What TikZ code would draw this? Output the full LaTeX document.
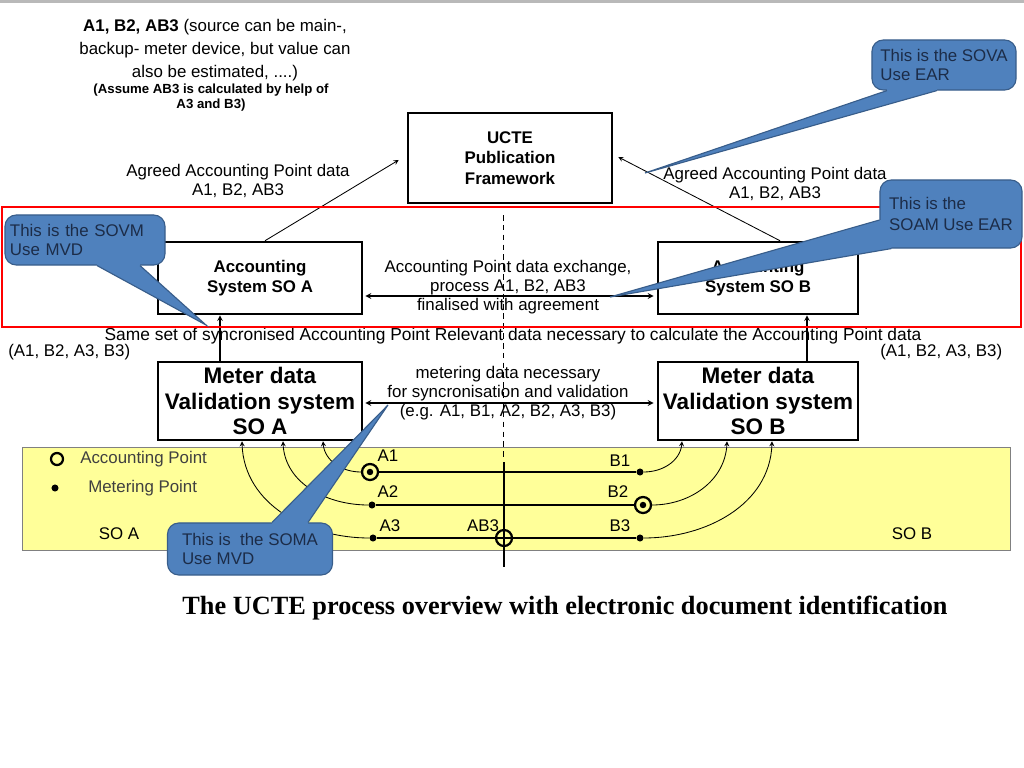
\documentclass[tikz,border=0pt]{standalone}
\usepackage{xcolor}
\usepackage{fontspec}
\setmainfont{Liberation Sans}
\newfontfamily\capfont{Liberation Serif}
\usepackage{tikz}
\usetikzlibrary{calc,bending}
\tikzset{>=stealth}
\definecolor{callfill}{HTML}{4F81BD}
\definecolor{calledge}{HTML}{385D8A}
\definecolor{calltext}{HTML}{1C2C48}
\definecolor{yellowbg}{HTML}{FFFF99}
\definecolor{legtext}{HTML}{404040}
\tikzset{
  sysbox/.style={draw,line width=1.8pt,align=center,inner sep=1pt,font=\bfseries\fontsize{12}{14.5}\selectfont},
  meterbox/.style={sysbox,font=\bfseries\fontsize{16}{18}\selectfont},
  txt/.style={align=center,inner sep=0pt,font=\fontsize{12}{13.5}\selectfont},
  ptlab/.style={inner sep=0pt,font=\fontsize{12}{13}\selectfont},
  acpt/.style={circle,draw,line width=1.6pt,fill=yellowbg,minimum size=0.4cm,inner sep=0pt},
  xpt/.style={circle,draw,line width=1.6pt,minimum size=0.4cm,inner sep=0pt},
  mpt/.style={circle,fill,minimum size=5pt,inner sep=0pt},
  calloutbox/.style={draw=calledge,line width=0.8pt,fill=callfill,rounded corners=8pt,align=left,
    text=calltext,inner sep=0pt,font=\fontsize{12}{13.5}\selectfont},
}

\begin{document}
\begin{tikzpicture}[x=0.025cm,y=-0.025cm]
  \useasboundingbox (0,0) rectangle (1024,768);
  \fill[gray!55] (0,0) rectangle (1024,3);
  \draw[gray,fill=yellowbg] (22,447) rectangle (1010,550);
  \draw[line width=0.6pt,dash pattern=on 4pt off 3pt] (503,215) -- (503,458);

  \node[sysbox,minimum width=5.1cm,minimum height=2.25cm] at (510,158) (ucte) {UCTE\\Publication\\Framework};
  \node[sysbox,minimum width=5.1cm,minimum height=1.8cm] at (260,278) (accA) {Accounting\\System SO A};
  \node[sysbox,minimum width=5cm,minimum height=1.8cm] at (758,278) (accB) {Accounting\\System SO B};
  \node[meterbox,minimum width=5.1cm,minimum height=1.95cm] at (260,401) (metA) {Meter data\\Validation system\\SO A};
  \node[meterbox,minimum width=5cm,minimum height=1.95cm] at (758,401) (metB) {Meter data\\Validation system\\SO B};

  \node[txt,font=\fontsize{12}{16.3}\selectfont] at (215,50) (src) {\textbf{A1, B2, AB3} (source can be main-,\\backup- meter device, but value can\\also be estimated, ....)};
  \node[txt,font=\bfseries\fontsize{9.4}{10.6}\selectfont] at (211,98) (assume) {(Assume AB3 is calculated by help of\\A3 and B3)};
  \node[txt] at (238,181) (agrA) {Agreed Accounting Point data\\A1, B2, AB3};
  \node[txt] at (775,184) (agrB) {Agreed Accounting Point data\\A1, B2, AB3};
  \node[txt] at (508,287) (exch) {Accounting Point data exchange,\\process A1, B2, AB3\\finalised with agreement};
  \node[txt,font=\fontsize{12.35}{14}\selectfont] at (513,336) (same) {Same set of syncronised Accounting Point Relevant data necessary to calculate the Accounting Point data};
  \node[txt,anchor=west] at (8,352) (setA) {(A1, B2, A3, B3)};
  \node[txt,anchor=west] at (880,352) (setB) {(A1, B2, A3, B3)};
  \node[txt] at (508,393) (mexch) {metering data necessary\\for syncronisation and validation\\(e.g. A1, B1, A2, B2, A3, B3)};
  \node[font=\capfont\bfseries\fontsize{18.7}{20}\selectfont] at (565,608) (cap) {The UCTE process overview with electronic document identification};

  \draw[->,line width=0.6pt] ($(accA.north)+(5,0)$) -- ($(ucte.west)+(-8,2)$);
  \draw[->,line width=0.6pt] ($(accB.north)+(22,0)$) -- ($(ucte.east)+(5,-1)$);
  \draw[<->,line width=0.9pt] ($(accA.east)+(2,18)$) -- ($(accB.west)+(-3,18)$);
  \draw[<->,line width=0.9pt] ($(metA.east)+(2,2)$) -- ($(metB.west)+(-3,2)$);
  \draw[->,line width=0.8pt] ($(metA.north)+(-40,0)$) -- ($(accA.south)+(-40,0)$);
  \draw[->,line width=0.8pt] ($(metB.north)+(49,0)$) -- ($(accB.south)+(49,0)$);

  % legend
  \node[circle,draw,line width=1.6pt,minimum size=0.3cm,inner sep=0pt] at (57,459) (legA) {};
  \node[txt,anchor=west,text=legtext] at (80,459) (legAt) {Accounting Point};
  \node[mpt] at (55,488) (legM) {};
  \node[txt,anchor=west,text=legtext] at (88,488) (legMt) {Metering Point};
  \node[txt] at (119,534) (soA) {SO A};
  \node[txt] at (912,534) (soB) {SO B};

  % points
  \node[acpt] at (370,472) (a1) {};
  \node[mpt] at (640,472) (b1) {};
  \node[mpt] at (372,505) (a2) {};
  \node[acpt] at (643,505) (b2) {};
  \node[mpt] at (373,538) (a3) {};
  \node[mpt] at (640,538) (b3) {};
  \fill (a1.center) circle (2.3pt);
  \fill (b2.center) circle (2.3pt);
  \draw[line width=2pt] (a1) -- (b1);
  \draw[line width=2pt] (a2) -- (b2);
  \draw[line width=2pt] (a3) -- (b3);
  \draw[line width=2pt] (504,462) -- (504,567);
  \node[xpt] at (504,538) (ab3) {};
  \node[ptlab] at (388,456) {A1};
  \node[ptlab] at (620,461) {B1};
  \node[ptlab] at (388,492) {A2};
  \node[ptlab] at (618,492) {B2};
  \node[ptlab] at (390,526) {A3};
  \node[ptlab] at (483,526) {AB3};
  \node[ptlab] at (620,526) {B3};

  \draw[->,line width=0.6pt] (a1.west) to[out=180,in=270] ($(metA.south)+(63,0)$);
  \draw[->,line width=0.6pt] (a2.west) to[out=180,in=270] ($(metA.south)+(23,0)$);
  \draw[->,line width=0.6pt] (a3.west) to[out=180,in=270] ($(metA.south)+(-18,0)$);
  \draw[->,line width=0.6pt] (b1.east) to[out=0,in=270] ($(metB.south)+(-76,0)$);
  \draw[->,line width=0.6pt] (b2.east) to[out=0,in=270] ($(metB.south)+(-31,0)$);
  \draw[->,line width=0.6pt] (b3.east) to[out=0,in=270] ($(metB.south)+(14,0)$);

  \draw[red,line width=1.5pt] (2,207) rectangle (1021,327);

  % callouts
  \node[calloutbox,minimum width=3.6cm,minimum height=1.25cm] at (944,65) (sova) {This is the SOVA\\Use EAR};
  \coordinate (sovatip) at (645,173);
  \fill[callfill] ($(sova.south)+(-57,-4)$) -- ($(sova.south)+(-57,0)$) -- (sovatip) -- ($(sova.south)+(-7,0)$) -- ($(sova.south)+(-7,-4)$) -- cycle;
  \draw[calledge,line width=0.8pt] ($(sova.south)+(-57,0)$) -- (sovatip) -- ($(sova.south)+(-7,0)$);

  \node[calloutbox,minimum width=3.55cm,minimum height=1.7cm] at (951,214) (soam) {This is the\\[2pt]SOAM Use EAR};
  \coordinate (soamtip) at (610,297);
  \fill[callfill] ($(soam.west)+(6,6)$) -- ($(soam.west)+(0,6)$) -- (soamtip) -- ($(soam.south west)+(12,0)$) -- ($(soam.south west)+(12,-6)$) -- cycle;
  \draw[calledge,line width=0.8pt] ($(soam.west)+(0,6)$) -- (soamtip) -- ($(soam.south west)+(12,0)$);

  \node[calloutbox,text width=3.75cm,inner xsep=0.125cm,minimum height=1.25cm] at (85,240) (sovm) {This is the SOVM\\Use MVD};
  \coordinate (sovmtip) at (206,325);
  \fill[callfill] ($(sovm.south)+(12,-4)$) -- ($(sovm.south)+(12,0)$) -- (sovmtip) -- ($(sovm.south)+(55,0)$) -- ($(sovm.south)+(55,-4)$) -- cycle;
  \draw[calledge,line width=0.8pt] ($(sovm.south)+(12,0)$) -- (sovmtip) -- ($(sovm.south)+(55,0)$);

  \node[calloutbox,minimum width=4.125cm,minimum height=1.3cm] at (250,549) (soma) {This is\ \ the SOMA\\Use MVD};
  \coordinate (somatip) at (388,405);
  \fill[callfill] ($(soma.north)+(22,4)$) -- ($(soma.north)+(22,0)$) -- (somatip) -- ($(soma.north)+(58,0)$) -- ($(soma.north)+(58,4)$) -- cycle;
  \draw[calledge,line width=0.8pt] ($(soma.north)+(22,0)$) -- (somatip) -- ($(soma.north)+(58,0)$);
\end{tikzpicture}
\end{document}
